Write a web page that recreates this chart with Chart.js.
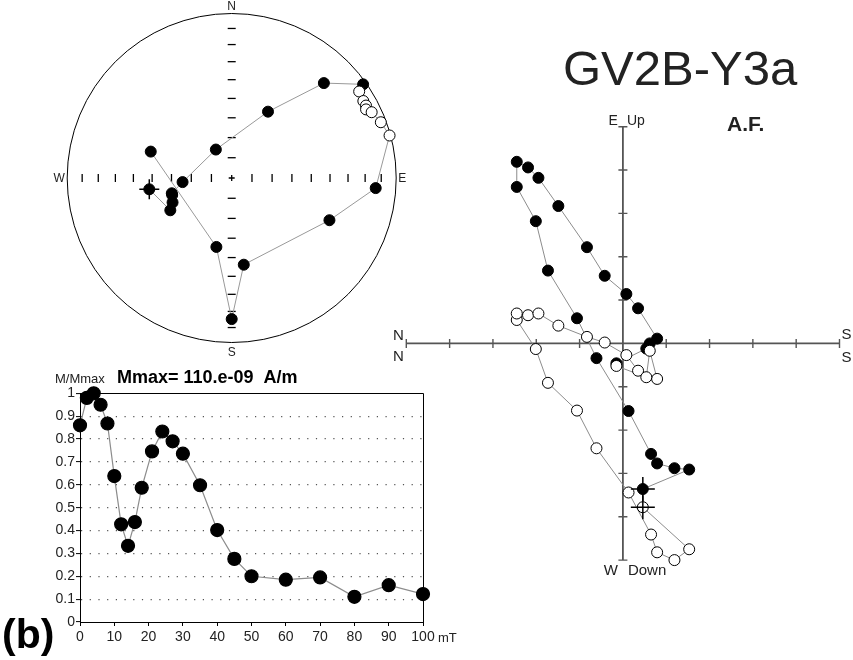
<!DOCTYPE html>
<html>
<head>
<meta charset="utf-8">
<title>GV2B-Y3a</title>
<script src="https://cdn.jsdelivr.net/npm/chart.js@4.4.1/dist/chart.umd.min.js"></script>
<style>
  body { margin: 0; background: #fff; }
  #wrap { position: relative; width: 853px; height: 660px; overflow: hidden; }
  canvas { position: absolute; }
</style>
</head>
<body>
<div id="wrap">
  <canvas id="stereo" width="420" height="360" style="left:0;top:0"></canvas>
  <canvas id="zijd" width="473" height="600" style="left:380px;top:0"></canvas>
  <canvas id="demag" width="460" height="300" style="left:0;top:360px"></canvas>
</div>
<script>
// AF steps (mT) and normalised intensity
const afSteps = [0, 2, 4, 6, 8, 10, 12, 14, 16, 18, 21, 24, 27, 30, 35, 40, 45, 50, 60, 70, 80, 90, 100];
const mOverMmax = [0.86, 0.98, 1.0, 0.95, 0.868, 0.638, 0.427, 0.333, 0.437, 0.587, 0.746, 0.833, 0.79, 0.736, 0.598, 0.402, 0.276, 0.2, 0.185, 0.195, 0.11, 0.161, 0.122];

// remanence components for each step (1 unit = 1 axis tick)
const compNorth = [-0.46, -1.53, -1.19, -0.79, -0.65, -0.13, 0.61, 1.06, 1.73, 2.01, 2.45, 2.45, 2.19, 1.95, 1.49, 0.83, 0.42, -0.08, -0.35, -0.79, -0.62, -0.54, 0.15];
const compEast = [-3.36, -2.91, -2.88, -2.77, -2.55, -1.56, -0.34, 0.58, 1.68, 2.82, 3.61, 4.19, 4.06, 3.82, 3.17, 2.22, 1.56, 1.14, 0.81, 0.11, 0.0, -0.12, -0.46];
const compUp = [-3.78, -4.75, -5.0, -4.82, -4.41, -3.44, -2.42, -1.55, -0.91, -0.13, 0.54, 0.69, 0.65, 0.69, 0.41, 0.15, 0.02, -0.27, -0.63, -0.82, -0.17, -0.78, -0.52];

const xTickValues = [0, 10, 20, 30, 40, 50, 60, 70, 80, 90, 100];
const yTickValues = [0, 0.1, 0.2, 0.3, 0.4, 0.5, 0.6, 0.7, 0.8, 0.9, 1];
const zijTickValues = [-5, -4, -3, -2, -1, 0, 1, 2, 3, 4, 5];
const stereoIncTicks = [10, 20, 30, 40, 50, 60, 70, 80];

Chart.defaults.font.family = '"Liberation Sans", Arial, sans-serif';
Chart.defaults.color = '#111';
Chart.defaults.animation = false;
Chart.defaults.plugins.legend.display = false;
Chart.defaults.plugins.tooltip.enabled = false;

const FONT = '"Liberation Sans", Arial, sans-serif';
const DEG = Math.PI / 180;

// equal-area (Schmidt) projection, lower hemisphere = filled
function equalArea(n, e, up) {
  const h = Math.hypot(n, e);
  const inc = Math.atan2(-up, h);
  const dec = Math.atan2(e, n);
  const r = Math.SQRT2 * Math.sin((Math.PI / 2 - Math.abs(inc)) / 2);
  return { x: r * Math.sin(dec), y: r * Math.cos(dec), down: inc >= 0 };
}

const stereoPts = afSteps.map((s, i) => equalArea(compNorth[i], compEast[i], compUp[i]));

// ---------- stereonet ----------
const stereoFrame = {
  id: 'stereoFrame',
  beforeDatasetsDraw(chart) {
    const { ctx } = chart;
    const xs = chart.scales.x, ys = chart.scales.y;
    const cx = xs.getPixelForValue(0), cy = ys.getPixelForValue(0);
    const R = xs.getPixelForValue(1) - cx;
    ctx.save();
    ctx.strokeStyle = '#000';
    ctx.lineWidth = 1;
    ctx.beginPath();
    ctx.arc(cx, cy, R, 0, 2 * Math.PI);
    ctx.stroke();
    ctx.lineWidth = 1.3;
    stereoIncTicks.forEach(inc => {
      const r = Math.SQRT2 * Math.sin((90 - inc) / 2 * DEG);
      [-1, 1].forEach(s => {
        const px = xs.getPixelForValue(s * r);
        ctx.beginPath(); ctx.moveTo(px, cy - 4); ctx.lineTo(px, cy + 4); ctx.stroke();
        const py = ys.getPixelForValue(s * r);
        ctx.beginPath(); ctx.moveTo(cx - 4, py); ctx.lineTo(cx + 4, py); ctx.stroke();
      });
    });
    ctx.beginPath();
    ctx.moveTo(cx - 3, cy); ctx.lineTo(cx + 3, cy);
    ctx.moveTo(cx, cy - 3); ctx.lineTo(cx, cy + 3);
    ctx.stroke();
    ctx.restore();
  },
  afterDraw(chart) {
    const { ctx } = chart;
    const xs = chart.scales.x, ys = chart.scales.y;
    const cx = xs.getPixelForValue(0), cy = ys.getPixelForValue(0);
    ctx.save();
    ctx.fillStyle = '#222';
    ctx.font = '12px ' + FONT;
    ctx.textAlign = 'center';
    ctx.textBaseline = 'alphabetic';
    ctx.fillText('N', cx, ys.getPixelForValue(1) - 4);
    ctx.fillText('S', cx, ys.getPixelForValue(-1) + 13);
    ctx.fillText('W', xs.getPixelForValue(-1) - 8, cy + 4);
    ctx.fillText('E', xs.getPixelForValue(1) + 6, cy + 4);
    ctx.restore();
  }
};

new Chart(document.getElementById('stereo'), {
  type: 'scatter',
  data: {
    datasets: [
      {
        label: 'NRM',
        data: [{ x: stereoPts[0].x, y: stereoPts[0].y }],
        pointStyle: 'cross',
        pointRadius: 10,
        pointBorderColor: '#000',
        pointBorderWidth: 1.5,
        clip: false
      },
      {
        label: 'directions',
        data: stereoPts.map(p => ({ x: p.x, y: p.y })),
        showLine: true,
        borderColor: '#999',
        borderWidth: 1,
        pointRadius: 5.5,
        pointBackgroundColor: stereoPts.map(p => p.down ? '#000' : '#fff'),
        pointBorderColor: '#000',
        pointBorderWidth: 1,
        clip: false
      }
    ]
  },
  options: {
    responsive: false,
    events: [],
    layout: { padding: { left: 67.2, right: 23.8, top: 13.5, bottom: 17.5 } },
    scales: {
      x: { type: 'linear', min: -1, max: 1, display: false },
      y: { type: 'linear', min: -1, max: 1, display: false }
    }
  },
  plugins: [stereoFrame]
});

// ---------- orthogonal (Zijderveld) plot ----------
const zijAxes = {
  id: 'zijAxes',
  beforeDatasetsDraw(chart) {
    const { ctx } = chart;
    const xs = chart.scales.x, ys = chart.scales.y;
    const x0 = xs.getPixelForValue(0), y0 = ys.getPixelForValue(0);
    const first = zijTickValues[0], last = zijTickValues[zijTickValues.length - 1];
    ctx.save();
    ctx.strokeStyle = '#555';
    ctx.lineWidth = 1.8;
    ctx.beginPath();
    ctx.moveTo(xs.getPixelForValue(first), y0); ctx.lineTo(xs.getPixelForValue(last), y0);
    ctx.moveTo(x0, ys.getPixelForValue(first)); ctx.lineTo(x0, ys.getPixelForValue(last));
    ctx.stroke();
    ctx.lineWidth = 1.4;
    zijTickValues.forEach(v => {
      if (v === 0) return;
      const px = xs.getPixelForValue(v), py = ys.getPixelForValue(v);
      ctx.beginPath();
      ctx.moveTo(px, y0 - 4.5); ctx.lineTo(px, y0 + 4.5);
      ctx.moveTo(x0 - 4.5, py); ctx.lineTo(x0 + 4.5, py);
      ctx.stroke();
    });
    ctx.restore();
  },
  afterDraw(chart) {
    const { ctx } = chart;
    const xs = chart.scales.x, ys = chart.scales.y;
    const x0 = xs.getPixelForValue(0), y0 = ys.getPixelForValue(0);
    const first = zijTickValues[0], last = zijTickValues[zijTickValues.length - 1];
    const xLeft = Math.min(xs.getPixelForValue(first), xs.getPixelForValue(last));
    const xRight = Math.max(xs.getPixelForValue(first), xs.getPixelForValue(last));
    const yTop = ys.getPixelForValue(last), yBottom = ys.getPixelForValue(first);
    ctx.save();
    ctx.fillStyle = '#222';
    ctx.textBaseline = 'alphabetic';
    ctx.font = '15px ' + FONT;
    ctx.textAlign = 'center';
    ctx.fillText('N', xLeft - 8, y0 - 3);
    ctx.fillText('N', xLeft - 8, y0 + 18);
    ctx.fillText('S', xRight + 7, y0 - 4);
    ctx.fillText('S', xRight + 7, y0 + 19);
    ctx.font = '14px ' + FONT;
    ctx.textAlign = 'right';
    ctx.fillText('E', x0 - 5, yTop - 2);
    ctx.textAlign = 'left';
    ctx.fillText('Up', x0 + 4, yTop - 2);
    ctx.font = '15px ' + FONT;
    ctx.textAlign = 'right';
    ctx.fillText('W', x0 - 5, yBottom + 15);
    ctx.textAlign = 'left';
    ctx.fillText('Down', x0 + 5, yBottom + 15);
    ctx.font = 'bold 21px ' + FONT;
    ctx.fillText('A.F.', 347, 131);
    ctx.font = '49px ' + FONT;
    ctx.fillText('GV2B-Y3a', 183, 85);
    ctx.restore();
  }
};

new Chart(document.getElementById('zijd'), {
  type: 'scatter',
  data: {
    datasets: [
      {
        label: 'NRM',
        data: [{ x: compNorth[0], y: compEast[0] }, { x: compNorth[0], y: compUp[0] }],
        pointStyle: 'cross',
        pointRadius: 12,
        pointBorderColor: '#000',
        pointBorderWidth: 1.5,
        clip: false
      },
      {
        label: 'vertical (N, Up)',
        data: afSteps.map((s, i) => ({ x: compNorth[i], y: compUp[i] })),
        showLine: true,
        borderColor: '#8c8c8c',
        borderWidth: 1,
        pointRadius: 5.5,
        pointBackgroundColor: '#fff',
        pointBorderColor: '#000',
        pointBorderWidth: 1,
        clip: false
      },
      {
        label: 'horizontal (N, E)',
        data: afSteps.map((s, i) => ({ x: compNorth[i], y: compEast[i] })),
        showLine: true,
        borderColor: '#8c8c8c',
        borderWidth: 1,
        pointRadius: 5.5,
        pointBackgroundColor: '#000',
        pointBorderColor: '#000',
        pointBorderWidth: 1,
        clip: false
      }
    ]
  },
  options: {
    responsive: false,
    events: [],
    layout: { padding: { left: 26.3, right: 13.3, top: 126.7, bottom: 39.9 } },
    scales: {
      x: { type: 'linear', min: -5, max: 5, reverse: true, display: false },
      y: { type: 'linear', min: -5, max: 5, display: false }
    }
  },
  plugins: [zijAxes]
});

// ---------- intensity decay ----------
const demagFrame = {
  id: 'demagFrame',
  beforeDatasetsDraw(chart) {
    const { ctx } = chart;
    const { left, right, top, bottom } = chart.chartArea;
    ctx.save();
    ctx.strokeStyle = '#000';
    ctx.lineWidth = 1;
    ctx.beginPath();
    ctx.moveTo(left, Math.round(top) + 0.5);
    ctx.lineTo(Math.round(right) + 0.5, Math.round(top) + 0.5);
    ctx.lineTo(Math.round(right) + 0.5, bottom);
    ctx.stroke();
    ctx.restore();
  },
  afterDraw(chart) {
    const { ctx } = chart;
    ctx.save();
    ctx.fillStyle = '#222';
    ctx.textBaseline = 'alphabetic';
    ctx.textAlign = 'left';
    ctx.font = '13px ' + FONT;
    ctx.fillText('M/Mmax', 55, 23);
    ctx.fillText('mT', 438, 282);
    ctx.fillStyle = '#000';
    ctx.font = 'bold 18px ' + FONT;
    ctx.fillText('Mmax= 110.e-09  A/m', 117, 23);
    ctx.font = 'bold 41px ' + FONT;
    ctx.fillText('(b)', 2, 288);
    ctx.restore();
  }
};

new Chart(document.getElementById('demag'), {
  type: 'scatter',
  data: {
    datasets: [{
      label: 'M/Mmax',
      data: afSteps.map((s, i) => ({ x: s, y: mOverMmax[i] })),
      showLine: true,
      borderColor: '#8c8c8c',
      borderWidth: 1.2,
      pointRadius: 6.5,
      pointBackgroundColor: '#000',
      pointBorderColor: '#000',
      clip: false
    }]
  },
  options: {
    responsive: false,
    events: [],
    layout: { padding: { left: 40, right: 37, top: 33.3, bottom: 13 } },
    scales: {
      x: {
        type: 'linear', min: 0, max: 100,
        afterFit: s => { s.height = 25; },
        afterBuildTicks: s => { s.ticks = xTickValues.map(v => ({ value: v })); },
        ticks: { autoSkip: false, maxRotation: 0, padding: 3, font: { size: 14 }, color: '#222' },
        grid: { drawOnChartArea: false, drawTicks: true, tickLength: 4, tickColor: '#000', tickWidth: 1 },
        border: { display: true, color: '#000', width: 1 }
      },
      y: {
        type: 'linear', min: 0, max: 1,
        afterFit: s => { s.width = 40; },
        afterBuildTicks: s => { s.ticks = yTickValues.map(v => ({ value: v })); },
        ticks: {
          autoSkip: false, padding: 1, font: { size: 14 }, color: '#222',
          callback: v => (v === 0 || v === 1) ? String(v) : v.toFixed(1)
        },
        grid: {
          color: c => (c.tick && (c.tick.value === 0 || c.tick.value === 1)) ? 'rgba(0,0,0,0)' : '#555',
          lineWidth: 1.2,
          drawTicks: true, tickLength: 4, tickColor: '#000', tickWidth: 1, tickBorderDash: []
        },
        border: { display: true, color: '#000', width: 1, dash: [1.2, 7.5] }
      }
    }
  },
  plugins: [demagFrame]
});
</script>
</body>
</html>
